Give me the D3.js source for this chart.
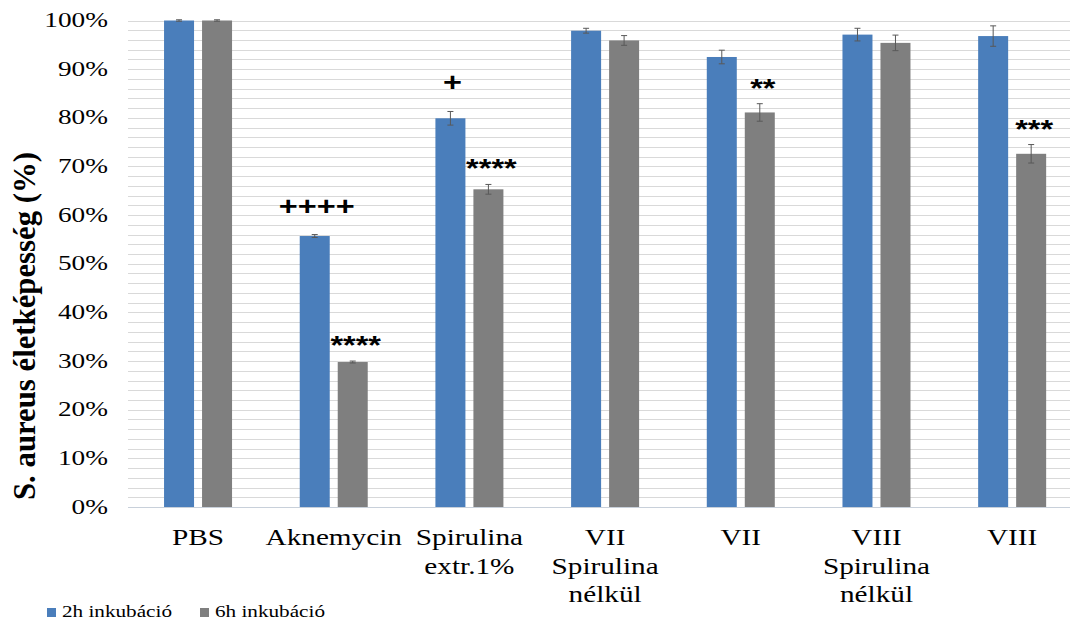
<!DOCTYPE html>
<html>
<head>
<meta charset="utf-8">
<script src="https://d3js.org/d3.v7.min.js"></script>
<style>
  body { margin: 0; background: #fff; }
  svg { display: block; }
  .serif { font-family: "Liberation Serif", "DejaVu Serif", serif; }
  .sans { font-family: "Liberation Sans", Arial, sans-serif; }
</style>
</head>
<body>
<svg id="chart" width="1070" height="624"></svg>
<script>
// data
const categories = [["PBS"], ["Aknemycin"], ["Spirulina", "extr.1%"], ["VII", "Spirulina", "nélkül"], ["VII"], ["VIII", "Spirulina", "nélkül"], ["VIII"]]
const series = ["2h inkubáció", "6h inkubáció"]
const values2h = [100, 55.7, 79.9, 97.9, 92.5, 97.1, 96.8]
const values6h = [100, 29.8, 65.3, 95.9, 81.1, 95.4, 72.6]
const err2h = [0.15, 0.3, 1.4, 0.5, 1.4, 1.3, 2.1]
const err6h = [0.15, 0.2, 1.0, 1.0, 1.8, 1.6, 1.9]
const marks2h = ["", "++++", "+", "", "", "", ""]
const marks6h = ["", "****", "****", "", "**", "", "***"]
const yTicks = [0, 10, 20, 30, 40, 50, 60, 70, 80, 90, 100]
const colors = ["#4a7ebb", "#7f7f7f"]

const sx = 1.3 // reference is stretched horizontally

const svg = d3.select("#chart")
const plotLeft = 130.2, plotRight = 1080, plotTop = 20.5, plotBottom = 507

const x0 = d3.scaleBand().domain(d3.range(categories.length)).range([plotLeft, plotRight])
const x1 = d3.scaleBand().domain(series)
    .range([x0.bandwidth()/2 - 34, x0.bandwidth()/2 + 34])
    .paddingInner(8/38)
const y = d3.scaleLinear().domain([0, 100]).range([plotBottom, plotTop])

// gridlines, minor every 2%
svg.append("g").selectAll("line")
    .data(d3.range(2, 101, 2))
    .join("line")
    .attr("x1", 128).attr("x2", 1070)
    .attr("y1", d => Math.round(y(d)) + 0.5).attr("y2", d => Math.round(y(d)) + 0.5)
    .attr("stroke", "#d9d9d9")
svg.append("line")
    .attr("x1", 128).attr("x2", 1070)
    .attr("y1", Math.round(y(0)) + 0.5).attr("y2", Math.round(y(0)) + 0.5)
    .attr("stroke", "#c8d0da")

// helper for horizontally stretched text
function stretchText(g, x, yy, str, size, anchor, cls, weight) {
  return g.append("text")
    .attr("class", cls)
    .attr("transform", `translate(${x},${yy}) scale(${sx},1)`)
    .attr("text-anchor", anchor)
    .attr("font-size", size)
    .attr("font-weight", weight || "normal")
    .attr("fill", "#000")
    .text(str)
}

// y tick labels
const yAxisG = svg.append("g")
yTicks.forEach(t => stretchText(yAxisG, 108, y(t) + 6.5, t + "%", 21, "end", "serif"))

// y axis title
svg.append("text")
    .attr("class", "serif")
    .attr("transform", `translate(35,326) rotate(-90) scale(1,${sx})`)
    .attr("text-anchor", "middle")
    .attr("font-size", 23.5)
    .attr("font-weight", "bold")
    .attr("textLength", 348)
    .attr("lengthAdjust", "spacingAndGlyphs")
    .text("S. aureus életképesség (%)")

// bars
const allVals = [values2h, values6h]
const allErr = [err2h, err6h]
const allMarks = [marks2h, marks6h]
const groups = svg.append("g").selectAll("g")
    .data(categories.map((c, i) => i))
    .join("g")
    .attr("transform", i => `translate(${x0(i)},0)`)

series.forEach((s, si) => {
  groups.append("rect")
      .attr("x", x1(s))
      .attr("width", x1.bandwidth())
      .attr("y", i => y(allVals[si][i]))
      .attr("height", i => y(0) - y(allVals[si][i]))
      .attr("fill", colors[si])
  // error bars
  const cx = x1(s) + x1.bandwidth()/2
  groups.append("path")
      .attr("d", i => {
        const v = allVals[si][i], e = allErr[si][i]
        const a = y(v + e), b = y(v - e)
        return `M${cx},${a}V${b}M${cx-3},${a}H${cx+3}M${cx-3},${b}H${cx+3}`
      })
      .attr("stroke", "#595959")
      .attr("stroke-width", 1)
      .attr("fill", "none")
  // significance marks
  groups.each(function(i) {
    const m = allMarks[si][i]
    if (!m) return
    const barTop = y(allVals[si][i] + allErr[si][i])
    const off = m[0] === "+" ? 20 : 7
    stretchText(d3.select(this), cx + (m[0] === "*" ? 3 : 2), barTop - off, m, 25, "middle", "sans", "bold")
  })
})

// category labels
const catG = svg.append("g")
categories.forEach((lines, i) => {
  lines.forEach((ln, li) => {
    stretchText(catG, x0(i) + x0.bandwidth()/2, 545 + li * 28.5, ln, 22.5, "middle", "serif")
  })
})

// legend
const legend = svg.append("g")
const legX = [47, 200]
series.forEach((s, si) => {
  legend.append("rect")
      .attr("x", legX[si]).attr("y", 608)
      .attr("width", 9).attr("height", 9)
      .attr("fill", colors[si])
  stretchText(legend, legX[si] + 15, 617, s, 16.3, "start", "serif")
})
</script>
</body>
</html>
